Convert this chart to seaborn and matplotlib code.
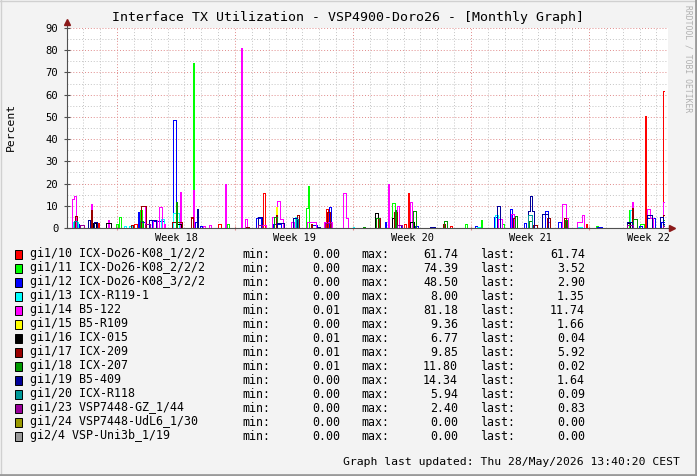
import numpy as np
import pandas as pd
import matplotlib
matplotlib.use('Agg')
import matplotlib.pyplot as plt
import seaborn as sns
from matplotlib.patches import Rectangle
from matplotlib.lines import Line2D
from matplotlib.ticker import MultipleLocator

# time axis in days, 0 = start of Week 18
T_START = -2.97
T_END = 32.48
X_MAX = 32.69

weeks = ['Week 18', 'Week 19', 'Week 20', 'Week 21', 'Week 22']
week_mid = [3.5, 10.5, 17.5, 24.5, 31.5]

labels = ['gi1/10 ICX-Do26-K08_1/2/2', 'gi1/11 ICX-Do26-K08_2/2/2', 'gi1/12 ICX-Do26-K08_3/2/2',
          'gi1/13 ICX-R119-1', 'gi1/14 B5-122', 'gi1/15 B5-R109', 'gi1/16 ICX-015',
          'gi1/17 ICX-209', 'gi1/18 ICX-207', 'gi1/19 B5-409', 'gi1/20 ICX-R118',
          'gi1/23 VSP7448-GZ_1/44', 'gi1/24 VSP7448-UdL6_1/30', 'gi2/4 VSP-Uni3b_1/19']
colors = ['#ff0000', '#00ff00', '#0000ff', '#00ffff', '#ff00ff', '#ffff00', '#000000',
          '#990000', '#009900', '#000099', '#009999', '#990099', '#999900', '#999999']
mins = [0.00, 0.00, 0.00, 0.00, 0.01, 0.00, 0.01, 0.01, 0.01, 0.00, 0.00, 0.00, 0.00, 0.00]
maxs = [61.74, 74.39, 48.50, 8.00, 81.18, 9.36, 6.77, 9.85, 11.80, 14.34, 5.94, 2.40, 0.00, 0.00]
lasts = [61.74, 3.52, 2.90, 1.35, 11.74, 1.66, 0.04, 5.92, 0.02, 1.64, 0.09, 0.83, 0.00, 0.00]

# (start day, end day, percent) bursts
red = [(-1.12, -1.06, 2.1), (1.01, 1.19, 1.6), (4.37, 4.48, 4.3), (5.99, 6.17, 1.8),
       (8.66, 8.80, 15.7), (12.40, 12.52, 8.4), (17.01, 17.13, 1.8), (17.28, 17.34, 15.6),
       (19.75, 19.86, 0.9), (27.85, 27.91, 1.8), (31.31, 31.37, 50.4), (32.39, T_END, 61.74)]
lime = [(-0.04, 0.04, 1.6), (0.12, 0.22, 5.0), (1.36, 1.48, 8.3), (4.48, 4.54, 74.39),
        (6.53, 6.64, 1.8), (11.21, 11.33, 8.9), (11.33, 11.39, 18.9), (16.31, 16.49, 11.2),
        (20.64, 20.76, 1.6), (21.62, 21.68, 3.7), (22.84, 22.96, 1.6), (28.41, 28.53, 0.8),
        (30.37, 30.55, 8.1), (31.0, 31.25, 1.8), (32.39, T_END, 3.52)]
blue = [(-2.67, -2.25, 2.0), (1.22, 1.28, 7.2), (1.42, 1.72, 2.8), (2.08, 2.79, 3.0),
        (3.34, 3.48, 48.5), (4.61, 4.75, 2.8), (4.91, 5.06, 0.9), (8.25, 8.54, 4.6),
        (9.25, 9.73, 1.6), (10.5, 10.68, 2.0), (11.57, 11.86, 1.3), (12.58, 12.70, 9.4),
        (15.87, 15.93, 2.5), (16.43, 16.84, 1.3), (17.68, 17.86, 0.9), (21.24, 21.36, 0.9),
        (22.36, 22.6, 5.0), (23.31, 23.43, 8.5), (24.14, 24.26, 2.1), (25.39, 25.57, 7.6),
        (26.14, 26.34, 2.8), (28.47, 28.77, 0.6), (30.96, 31.14, 1.0), (31.42, 31.92, 4.3),
        (32.27, 32.39, 2.8), (32.39, T_END, 2.90)]
cyan = [(-2.61, -2.31, 2.5), (0.42, 0.53, 0.9), (0.71, 0.89, 0.9), (2.59, 2.79, 3.9),
        (3.32, 3.68, 6.6), (10.54, 10.7, 5.0), (13.98, 14.06, 0.5), (21.36, 21.53, 0.6),
        (22.42, 22.58, 5.8), (27.35, 27.57, 0.5), (30.43, 30.55, 8.0), (32.39, T_END, 1.35)]
magenta = [(-2.65, -2.55, 13.0), (-2.55, -2.41, 14.4), (-1.52, -1.46, 10.6), (-0.53, -0.46, 3.6),
           (1.63, 1.69, 9.9), (2.14, 2.37, 3.6), (2.51, 2.65, 9.4), (2.79, 2.85, 1.6),
           (3.71, 3.77, 16.3), (4.48, 4.54, 17.0), (5.1, 5.22, 0.9), (5.46, 5.58, 1.3),
           (6.38, 6.44, 19.8), (7.38, 7.44, 81.18), (7.59, 7.71, 4.2), (8.6, 8.84, 1.3),
           (9.2, 9.41, 5.0), (9.49, 9.67, 12.1), (9.67, 9.85, 4.0), (10.3, 10.5, 2.8),
           (11.27, 11.8, 2.8), (12.28, 12.76, 2.8), (13.41, 13.59, 15.6), (13.59, 13.7, 4.3),
           (16.05, 16.11, 19.8), (16.61, 16.73, 10.0), (17.38, 17.5, 11.5), (22.6, 22.84, 3.9),
           (23.37, 23.55, 6.1), (25.55, 25.7, 2.8), (26.4, 26.64, 10.6), (26.64, 26.77, 4.6),
           (27.29, 27.57, 2.8), (27.57, 27.71, 5.8), (30.55, 30.61, 11.7), (31.44, 31.62, 8.5),
           (31.62, 31.8, 4.3), (32.39, T_END, 11.74)]
yellow = [(9.44, 9.50, 9.36), (32.39, T_END, 1.66)]
black = [(-1.42, -1.25, 2.1), (-0.65, -0.36, 2.1), (0.83, 0.95, 1.3), (3.48, 3.78, 1.6),
         (15.31, 15.48, 6.77), (16.31, 16.49, 4.6), (17.38, 17.62, 2.8), (30.24, 30.43, 2.1),
         (32.39, T_END, 0.04)]
darkred = [(-2.49, -2.37, 5.2), (-1.52, -1.46, 8.1), (0.83, 0.95, 1.3), (1.42, 1.72, 9.85),
           (3.26, 3.86, 2.5), (4.37, 4.53, 5.0), (7.65, 7.83, 0.6), (9.44, 9.50, 6.0),
           (10.68, 10.8, 5.8), (11.49, 11.59, 1.6), (12.46, 12.62, 7.0), (15.46, 15.62, 4.6),
           (16.43, 16.61, 7.0), (19.32, 19.46, 2.0), (23.47, 23.61, 4.3), (24.68, 24.9, 1.3),
           (25.49, 25.69, 4.6), (26.54, 26.66, 4.6), (30.55, 30.61, 8.8), (32.42, T_END, 5.92)]
darkgreen = [(1.36, 1.54, 3.0), (3.47, 3.53, 11.8), (9.31, 9.49, 5.0), (14.59, 14.71, 0.5),
             (15.36, 15.54, 4.3), (16.49, 16.55, 8.0), (17.56, 17.74, 7.6), (19.4, 19.58, 3.1),
             (23.61, 23.73, 5.4), (24.44, 24.6, 3.3), (26.58, 26.7, 3.6), (30.61, 30.85, 4.0),
             (32.39, T_END, 0.02)]
navy = [(-1.72, -1.6, 3.6), (-1.36, -1.19, 2.8), (1.9, 2.3, 3.6), (4.72, 4.78, 8.7),
        (8.36, 8.6, 5.1), (9.49, 9.91, 2.1), (10.44, 10.68, 4.3), (11.86, 12.04, 0.6),
        (18.57, 18.86, 0.4), (22.54, 22.72, 9.9), (24.38, 24.5, 7.6), (24.5, 24.62, 14.34),
        (24.62, 24.74, 7.6), (25.21, 25.57, 6.1), (30.24, 30.53, 2.8), (31.44, 31.74, 5.8),
        (32.21, 32.39, 5.0), (32.39, T_END, 1.64)]
teal = [(-2.55, -2.37, 3.0), (10.6, 10.72, 4.0), (24.36, 24.6, 5.94), (32.39, T_END, 0.09)]
purple = [(-2.19, -1.96, 1.5), (1.66, 1.96, 1.8), (8.36, 8.6, 1.2), (12.34, 12.7, 2.4),
          (16.61, 16.9, 1.5), (30.24, 30.6, 1.2), (32.39, T_END, 0.83)]
olive = []
gray = []

series = [red, lime, blue, cyan, magenta, yellow, black, darkred, darkgreen, navy, teal,
          purple, olive, gray]

W, H = 697, 476


def fx(px):
    return px / W


def fy(py):
    return 1 - py / H


def to_steps(bursts):
    t, v = [T_START], [0.0]
    for s, e, val in sorted(bursts):
        if abs(t[-1] - s) < 1e-9 and v[-1] == 0.0 and len(t) > 1:
            t.pop()
            v.pop()
        t.append(s)
        v.append(val)
        t.append(e)
        v.append(0.0 if e < T_END else val)
    if t[-1] < T_END:
        t.append(T_END)
        v.append(v[-1])
    return pd.DataFrame({'day': t, 'pct': v})


def main():
    plt.rcParams['font.family'] = ['DejaVu Sans Mono']
    fig = plt.figure(figsize=(W / 100, H / 100), dpi=100, facecolor='#f3f3f3')
    ax = fig.add_axes([fx(67), fy(228), fx(601), 200 / H])
    ax.set_facecolor('white')

    for bursts, c in zip(series, colors):
        df = to_steps(bursts)
        sns.lineplot(x='day', y='pct', data=df, ax=ax, color=c, estimator=None, sort=False,
                     drawstyle='steps-post', linewidth=0.6, antialiased=False, legend=False)

    ax.set_xlim(T_START, X_MAX)
    ax.set_ylim(0, 90)
    ax.set_xlabel('')
    ax.set_ylabel('')

    ax.xaxis.set_major_locator(MultipleLocator(7))
    ax.xaxis.set_minor_locator(MultipleLocator(1))
    ax.yaxis.set_major_locator(MultipleLocator(10))
    ax.yaxis.set_minor_locator(MultipleLocator(5))
    ax.set_axisbelow(True)
    ax.grid(which='major', color='#e08a8a', linestyle=(0, (1, 2)), linewidth=0.7)
    ax.grid(which='minor', color='#c4c4c4', linestyle=(0, (1, 2)), linewidth=0.7)

    ax.set_xticklabels([])
    ax.tick_params(axis='x', which='major', length=3, direction='inout', color='#e08a8a')
    ax.tick_params(axis='x', which='minor', length=0)
    ax.tick_params(axis='y', which='major', length=4, direction='inout', color='#505050',
                   labelsize=7.6, pad=4.2)
    ax.tick_params(axis='y', which='minor', length=0)

    for s in ['top', 'right']:
        ax.spines[s].set_visible(False)
    for s in ['left', 'bottom']:
        ax.spines[s].set_color('#505050')
        ax.spines[s].set_linewidth(0.8)
        ax.spines[s].set_zorder(5)

    # axis arrows
    ax.plot([T_START, T_START], [90, 92.5], color='#505050', lw=0.8, clip_on=False, zorder=5)
    ax.plot([X_MAX, 32.85], [0, 0], color='#505050', lw=0.8, clip_on=False, zorder=5)
    ax.plot([T_START], [92.6], marker='^', ms=4, color='#8b1a1a', clip_on=False, zorder=6)
    ax.plot([32.9], [0], marker='>', ms=4, color='#8b1a1a', clip_on=False, zorder=6)

    for w, m in zip(weeks, week_mid):
        ax.text(m, -4.5, w, ha='center', va='center', fontsize=7.4,
                transform=ax.transData)

    fig.text(0.5, fy(18), 'Interface TX Utilization - VSP4900-Doro26 - [Monthly Graph]',
             ha='center', va='center', fontsize=9.5)
    fig.text(fx(10.5), fy(127), 'Percent', rotation=90, ha='center', va='center', fontsize=8.2)
    fig.text(fx(688), fy(5), 'RRDTOOL / TOBI OETIKER', rotation=270, ha='center', va='top',
             fontsize=5.8, color='#b0b0b0')

    for i, lab in enumerate(labels):
        yc = 254 + 14 * i
        fig.add_artist(Rectangle((fx(15), fy(yc + 4.5)), 7 / W, 9 / H, transform=fig.transFigure,
                                 facecolor=colors[i], edgecolor='black', linewidth=0.7))
        fig.text(fx(30), fy(yc), lab, ha='left', va='center', fontsize=8.4)
        fig.text(fx(242), fy(yc), 'min:', ha='left', va='center', fontsize=8.4)
        fig.text(fx(340), fy(yc), '%.2f' % mins[i], ha='right', va='center', fontsize=8.4)
        fig.text(fx(361), fy(yc), 'max:', ha='left', va='center', fontsize=8.4)
        fig.text(fx(458), fy(yc), '%.2f' % maxs[i], ha='right', va='center', fontsize=8.4)
        fig.text(fx(480), fy(yc), 'last:', ha='left', va='center', fontsize=8.4)
        fig.text(fx(585), fy(yc), '%.2f' % lasts[i], ha='right', va='center', fontsize=8.4)

    fig.text(fx(680), fy(462), 'Graph last updated: Thu 28/May/2026 13:40:20 CEST',
             ha='right', va='center', fontsize=8.2)

    # frame around the image
    fig.add_artist(Line2D([0, 1], [fy(0.5), fy(0.5)], transform=fig.transFigure, color='#d0d0d0', lw=1))
    fig.add_artist(Line2D([fx(0.5), fx(0.5)], [0, 1], transform=fig.transFigure, color='#d0d0d0', lw=1))
    fig.add_artist(Line2D([fx(695.5), fx(695.5)], [0, 1], transform=fig.transFigure, color='#9a9a9a', lw=2))
    fig.add_artist(Line2D([0, 1], [fy(474.5), fy(474.5)], transform=fig.transFigure, color='#9a9a9a', lw=2))

    fig.savefig('out.png', dpi=100, facecolor=fig.get_facecolor())


if __name__ == "__main__":
    main()
